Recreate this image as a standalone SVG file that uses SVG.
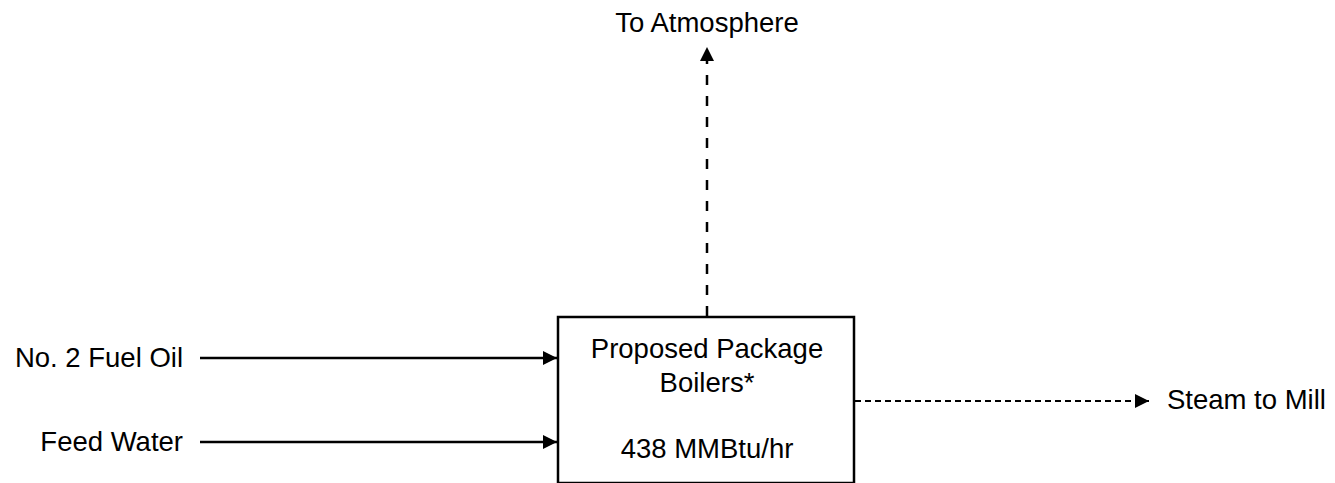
<svg xmlns="http://www.w3.org/2000/svg" width="1335" height="483" viewBox="0 0 1335 483">
<style>
text{font-family:"Liberation Sans",Arial,sans-serif;font-size:27.5px;fill:#000}
.c{text-anchor:middle}
.e{text-anchor:end}
.solid{stroke:#000;stroke-width:2.5;fill:none}
.dash1{stroke:#000;stroke-width:2.5;fill:none;stroke-dasharray:10 11}
.dash2{stroke:#000;stroke-width:2;fill:none;stroke-dasharray:6 4}
</style>
<defs>
<marker id="ah" viewBox="0 0 14 14" refX="14" refY="7" markerWidth="14" markerHeight="14" markerUnits="userSpaceOnUse" orient="auto">
<path d="M0,0 L14,7 L0,14 z" fill="#000"/>
</marker>
</defs>
<rect width="1335" height="483" fill="#fff"/>
<g id="boiler">
<rect x="558" y="317" width="296" height="166" fill="#fff" stroke="#000" stroke-width="2.5"/>
<text class="c" x="707" y="358">Proposed Package</text>
<text class="c" x="707" y="392">Boilers*</text>
<text class="c" x="707" y="458">438 MMBtu/hr</text>
</g>
<g id="atmosphere"><text class="c" x="707" y="32">To Atmosphere</text></g>
<g id="fuel-oil"><text class="e" x="183" y="367">No. 2 Fuel Oil</text></g>
<g id="feed-water"><text class="e" x="183" y="451">Feed Water</text></g>
<g id="steam"><text x="1167" y="409">Steam to Mill</text></g>
<g id="connectors">
<line class="dash1" x1="707" y1="316" x2="707" y2="47" marker-end="url(#ah)"/>
<line class="solid" x1="200" y1="358" x2="557" y2="358" marker-end="url(#ah)"/>
<line class="solid" x1="200" y1="442" x2="557" y2="442" marker-end="url(#ah)"/>
<line class="dash2" x1="855" y1="401" x2="1149" y2="401" marker-end="url(#ah)"/>
</g>
</svg>
